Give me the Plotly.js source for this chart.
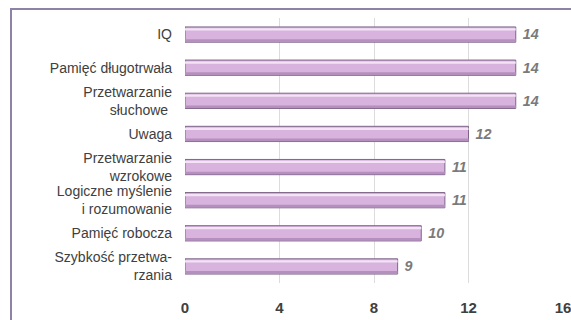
<!DOCTYPE html>
<html>
<head>
<meta charset="utf-8">
<script src="https://cdn.plot.ly/plotly-3.0.1.min.js"></script>
<style>
  html, body { margin: 0; padding: 0; background: #ffffff; }
  #wrap { position: relative; width: 571px; height: 320px; overflow: hidden; }
  #frame { position: absolute; left: 10px; top: 8px; width: 600px; height: 400px;
           border-left: 2px solid #8e83a6; border-top: 2px solid #8e83a6; box-sizing: border-box; }
  #chart { position: absolute; left: 0; top: 0; width: 571px; height: 320px; }
</style>
</head>
<body>
<div id="wrap">
  <div id="frame"></div>
  <div id="chart"></div>
</div>
<script>
// Cognitive domains, listed from the top of the chart down
const categories = [
  'IQ',
  'Pamięć długotrwała',
  'Przetwarzanie<br>słuchowe ',
  'Uwaga',
  'Przetwarzanie<br>wzrokowe',
  'Logiczne myślenie<br>i rozumowanie',
  'Pamięć robocza',
  'Szybkość przetwa-<br>rzania'
];
const scores = [14, 14, 14, 12, 11, 11, 10, 9];
const xTicks = [0, 4, 8, 12, 16];

// Main bars with value labels
const mainBars = {
  type: 'bar',
  orientation: 'h',
  y: categories,
  x: scores,
  width: 0.46,
  marker: { color: '#d7b3de', line: { color: '#7d6488', width: 1 } },
  text: scores.map(String),
  texttemplate: ' %{text}',
  textposition: 'outside',
  cliponaxis: false,
  textfont: { family: 'Liberation Sans, Arial, sans-serif', size: 16, color: '#7a7a7a', weight: 'bold', style: 'italic' },
  hoverinfo: 'skip'
};

// Glossy highlight strip along the upper part of each bar
const shine = {
  type: 'bar',
  orientation: 'h',
  y: categories,
  x: scores,
  width: 0.07,
  offset: -0.19,
  marker: { color: '#f3e3f5', line: { width: 0 } },
  hoverinfo: 'skip'
};

// Darker shading along the lower edge of each bar
const shade = {
  type: 'bar',
  orientation: 'h',
  y: categories,
  x: scores,
  width: 0.08,
  offset: 0.14,
  marker: { color: '#b590be', line: { width: 0 } },
  hoverinfo: 'skip'
};

const layout = {
  width: 571,
  height: 320,
  margin: { l: 185, r: 8, t: 18, b: 37 },
  paper_bgcolor: 'rgba(0,0,0,0)',
  plot_bgcolor: 'rgba(0,0,0,0)',
  showlegend: false,
  barmode: 'overlay',
  xaxis: {
    range: [0, 16],
    tickvals: xTicks,
    ticktext: xTicks.map(String),
    showgrid: true,
    gridcolor: '#dcdcdc',
    gridwidth: 1,
    zeroline: false,
    showline: false,
    ticks: '',
    ticklabelstandoff: 14,
    ticklabeloverflow: 'allow',
    tickfont: { family: 'Liberation Sans, Arial, sans-serif', size: 15, color: '#404040', weight: 'bold' },
    fixedrange: true
  },
  yaxis: {
    autorange: 'reversed',
    showgrid: false,
    zeroline: false,
    showline: false,
    ticks: '',
    ticklabelstandoff: 12,
    tickfont: { family: 'Liberation Sans, Arial, sans-serif', size: 14, color: '#404040' },
    fixedrange: true
  }
};

Plotly.newPlot('chart', [mainBars, shade, shine], layout, { displayModeBar: false, staticPlot: true });
</script>
</body>
</html>
